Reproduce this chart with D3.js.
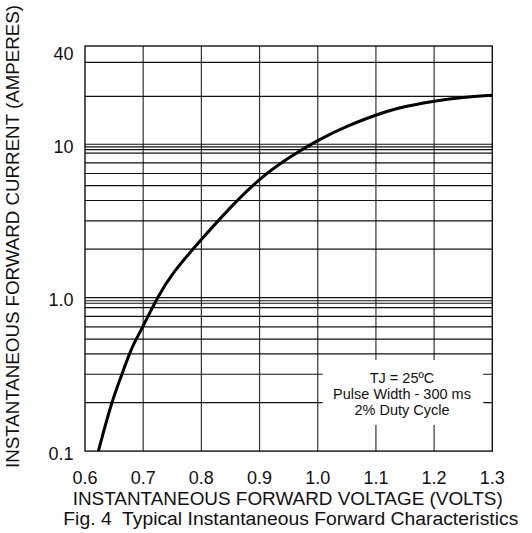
<!DOCTYPE html>
<html>
<head>
<meta charset="utf-8">
<script src="https://cdn.jsdelivr.net/npm/d3@7"></script>
<style>
  body { margin: 0; background: #fff; }
  text { font-family: "Liberation Sans", Arial, sans-serif; fill: #111; }
</style>
</head>
<body>
<div id="chart"></div>
<script>
const width = 532;
const height = 533;

// Curve (volts, amperes)
const voltage = [0.623, 0.645, 0.663, 0.676, 0.687, 0.699, 0.724, 0.75, 0.80, 0.85, 0.90, 0.95, 1.00, 1.055, 1.10, 1.135, 1.20, 1.25, 1.30];
const current = [0.1, 0.205, 0.313, 0.43, 0.53, 0.641, 1.0, 1.45, 2.4, 3.9, 6.0, 8.2, 10.67, 13.4, 15.5, 17.2, 19.2, 20.2, 20.9];

// Grid lines as drawn in the original (not exactly log spaced)
const xGrid = [0.7, 0.8, 0.9, 1.0, 1.1, 1.2];
const yGrid = [0.207, 0.317, 0.430, 0.537, 0.645, 0.756, 0.861, 0.92, 0.955, 1.0,
               2.07, 3.17, 4.30, 5.37, 6.45, 7.56, 8.76, 9.23, 9.62, 10, 20.5, 34.2];

const xTicks = [0.6, 0.7, 0.8, 0.9, 1.0, 1.1, 1.2, 1.3];
const yTicks = [0.1, 1, 10, 40];
const yTickLabels = ["0.1", "1.0", "10", "40"];

const noteLines = ["TJ = 25ºC", "Pulse Width - 300 ms", "2% Duty Cycle"];

const svg = d3.select("#chart")
    .append("svg")
    .attr("width", width)
    .attr("height", height);

const x = d3.scaleLinear().domain([0.6, 1.3]).range([85, 492.3]);
const y = d3.scaleLog().domain([0.1, 43.7]).range([451.1, 46]);

// grid
svg.append("g").selectAll("line")
    .data(xGrid)
    .enter()
    .append("line")
    .attr("x1", d => x(d)).attr("x2", d => x(d))
    .attr("y1", y(43.7)).attr("y2", y(0.1))
    .attr("stroke", "#333")
    .attr("stroke-width", 1.2);

svg.append("g").selectAll("line")
    .data(yGrid)
    .enter()
    .append("line")
    .attr("x1", x(0.6)).attr("x2", x(1.3))
    .attr("y1", d => y(d)).attr("y2", d => y(d))
    .attr("stroke", "#111")
    .attr("stroke-width", 1.2);

// frame
svg.append("rect")
    .attr("x", x(0.6))
    .attr("y", y(43.7))
    .attr("width", x(1.3) - x(0.6))
    .attr("height", y(0.1) - y(43.7))
    .attr("fill", "none")
    .attr("stroke", "#111")
    .attr("stroke-width", 1.4);

// curve
const line = d3.line()
    .x(d => x(d[0]))
    .y(d => y(d[1]))
    .curve(d3.curveBasis);

svg.append("path")
    .datum(voltage.map((v, i) => [v, current[i]]))
    .attr("d", line)
    .attr("fill", "none")
    .attr("stroke", "#000")
    .attr("stroke-width", 3);

// note box (white patch over the grid)
const note = svg.append("g");
note.append("rect")
    .attr("x", 322.7)
    .attr("y", 360)
    .attr("width", 160.6)
    .attr("height", 65)
    .attr("fill", "#fff");

note.selectAll("text")
    .data(noteLines)
    .enter()
    .append("text")
    .attr("x", 402)
    .attr("y", (d, i) => 382.7 + i * 16)
    .attr("text-anchor", "middle")
    .attr("font-size", "14.5px")
    .text(d => d);

// tick labels
svg.append("g").selectAll("text")
    .data(xTicks)
    .enter()
    .append("text")
    .attr("x", d => x(d))
    .attr("y", 484)
    .attr("text-anchor", "middle")
    .attr("font-size", "18px")
    .text(d => d3.format(".1f")(d));

svg.append("g").selectAll("text")
    .data(yTicks)
    .enter()
    .append("text")
    .attr("x", 73.5)
    .attr("y", d => y(d) + 8.5)
    .attr("text-anchor", "end")
    .attr("font-size", "18px")
    .text((d, i) => yTickLabels[i]);

// axis titles
svg.append("text")
    .attr("x", 72.7)
    .attr("y", 505)
    .attr("font-size", "18px")
    .attr("textLength", 430)
    .attr("lengthAdjust", "spacingAndGlyphs")
    .text("INSTANTANEOUS FORWARD VOLTAGE (VOLTS)");

svg.append("text")
    .attr("x", 63.3)
    .attr("y", 525)
    .attr("font-size", "18px")
    .attr("textLength", 455)
    .attr("lengthAdjust", "spacingAndGlyphs")
    .style("white-space", "pre")
    .text("Fig. 4  Typical Instantaneous Forward Characteristics");

svg.append("text")
    .attr("transform", "translate(19,468) rotate(-90)")
    .attr("font-size", "18px")
    .attr("textLength", 463)
    .attr("lengthAdjust", "spacingAndGlyphs")
    .text("INSTANTANEOUS FORWARD CURRENT (AMPERES)");
</script>
</body>
</html>
